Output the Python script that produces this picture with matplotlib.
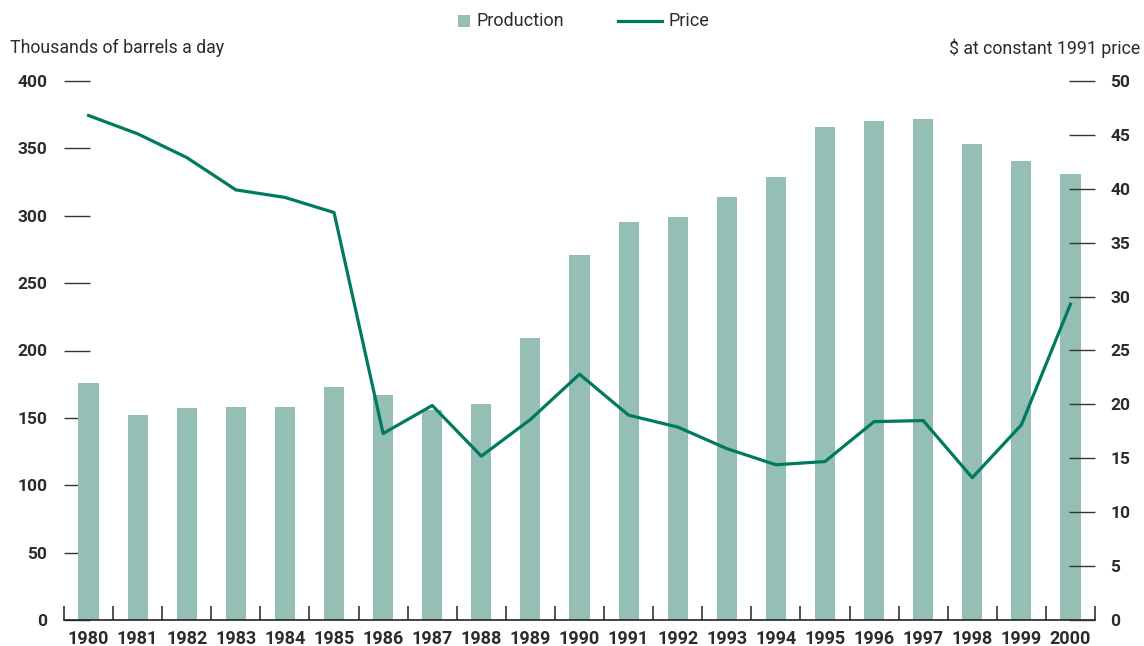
import matplotlib
matplotlib.use("Agg")
import matplotlib.pyplot as plt
from matplotlib.patches import Rectangle
from matplotlib.lines import Line2D

plt.rcParams['font.family'] = ['Roboto', 'DejaVu Sans']

years = ['1980', '1981', '1982', '1983', '1984', '1985', '1986', '1987', '1988', '1989',
         '1990', '1991', '1992', '1993', '1994', '1995', '1996', '1997', '1998', '1999', '2000']
production = [176, 152, 157, 158, 158, 173, 167, 156, 160, 209,
              271, 295, 299, 314, 329, 366, 370, 372, 353, 341, 331]
price = [46.8, 45.1, 42.9, 39.9, 39.2, 37.8, 17.3, 19.9, 15.2, 18.6,
         22.8, 19.0, 17.9, 15.9, 14.4, 14.7, 18.4, 18.5, 13.2, 18.1, 29.3]
left_ticks = [0, 50, 100, 150, 200, 250, 300, 350, 400]
right_ticks = [0, 5, 10, 15, 20, 25, 30, 35, 40, 45, 50]

bar_color = '#95bfb4'
line_color = '#007a5e'
text_color = '#2b2b2b'

W, H = 1144, 646
fig = plt.figure(figsize=(W / 100, H / 100), dpi=100)
ax = fig.add_axes([64 / W, 1 - 620 / H, (1095 - 64) / W, (620 - 81) / H])
ax2 = ax.twinx()

x = list(range(len(years)))
ax.bar(x, production, width=0.41, color=bar_color, zorder=2)
ax.set_xlim(-0.5, len(years) - 0.5)
ax.set_ylim(0, 400)
ax2.set_ylim(0, 50)

ax2.plot(x, price, color=line_color, linewidth=2.3, zorder=3)

for a in (ax, ax2):
    for s in a.spines.values():
        s.set_visible(False)
ax.spines['bottom'].set_visible(True)
ax.spines['bottom'].set_color('#222222')
ax.spines['bottom'].set_linewidth(1.2)

# x ticks: boundaries as tick marks, labels at centres
ax.set_xticks([i - 0.5 for i in range(len(years) + 1)])
ax.set_xticklabels([])
ax.set_xticks(x, minor=True)
ax.set_xticklabels(years, minor=True, fontsize=13, fontweight='bold', color=text_color)
ax.tick_params(axis='x', which='major', direction='in', length=10, width=1.2, color='#333333')
ax.tick_params(axis='x', which='minor', length=0, pad=7)

ax.set_yticks(left_ticks)
ax.set_yticklabels([str(t) for t in left_ticks], fontsize=12.5, fontweight='bold', color=text_color)
ax.tick_params(axis='y', direction='in', length=18.5, width=1.0, color='#333333', pad=12)
for t in ax.yaxis.get_major_ticks():
    t.tick1line.set_zorder(1)

ax2.set_yticks(right_ticks)
ax2.set_yticklabels([str(t) for t in right_ticks], fontsize=12.5, fontweight='bold', color=text_color)
ax2.tick_params(axis='y', direction='in', length=18.5, width=1.0, color='#333333', pad=11)

fig.text(10 / W, 1 - 48 / H, 'Thousands of barrels a day', fontsize=12.8, color=text_color,
         ha='left', va='center')
fig.text(1140 / W, 1 - 48 / H, '$ at constant 1991 price', fontsize=12.8, color=text_color,
         ha='right', va='center')

# legend drawn in figure coordinates
fig.add_artist(Rectangle((458 / W, 1 - 27 / H), 12 / W, 12 / H, transform=fig.transFigure,
                         facecolor=bar_color, edgecolor='none'))
fig.text(477 / W, 1 - 21 / H, 'Production', fontsize=13, color=text_color, ha='left', va='center')
fig.add_artist(Line2D([618 / W, 662 / W], [1 - 21 / H, 1 - 21 / H], transform=fig.transFigure,
                      color=line_color, linewidth=2.3))
fig.text(668 / W, 1 - 21 / H, 'Price', fontsize=13, color=text_color, ha='left', va='center')

fig.savefig('out.png', dpi=100)
